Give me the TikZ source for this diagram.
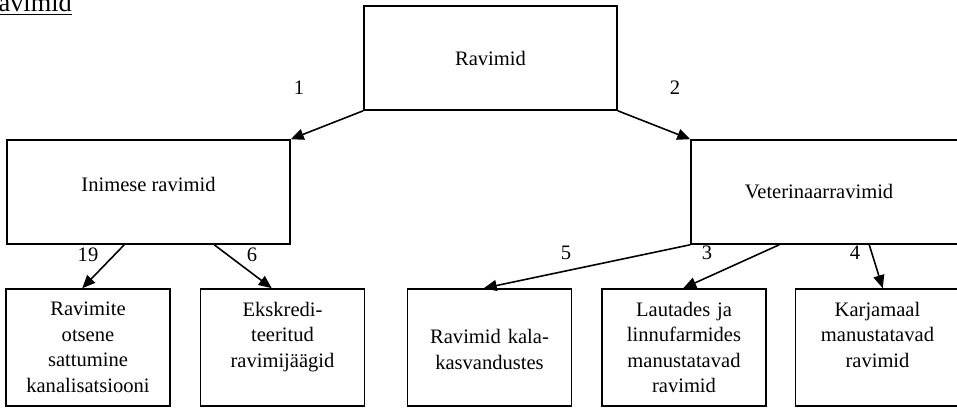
\documentclass[tikz,border=0pt]{standalone}
\usepackage{fontspec}
\setmainfont{Liberation Serif}
\usetikzlibrary{arrows.meta,calc}

\begin{document}
\begin{tikzpicture}[x=0.02cm, y=-0.02cm,
    every node/.style={font=\fontsize{11.7}{14.5}\selectfont},
    box/.style={draw, line width=0.9pt, minimum width=5.66cm, minimum height=2.08cm, inner sep=0pt},
    leaf/.style={draw, line width=0.9pt, minimum width=3.28cm, minimum height=2.34cm, text width=3.1cm, align=center, inner sep=0pt},
    arr/.style={line width=0.9pt, -{Triangle[length=0.26cm, width=0.22cm]}}]
    \useasboundingbox (0,0) rectangle (957,408);

    \node[anchor=base east, font=\fontsize{15}{18}\selectfont] (title) at (78,11.5) {\underline{Ravimid}};

    \node[box, minimum width=5.06cm] (rav) at (490.5,58) {Ravimid};
    \node[box, text depth=0.32cm] (inim) at (148.5,192) {Inimese ravimid};
    \node[box, minimum width=5.68cm] (vet) at (833,192) {Veterinaarravimid\kern0.56cm\null};

    \node[leaf] (kanal) at (88,347.5) {Ravimite\\otsene\\sattumine\\kanalisatsiooni};
    \node[leaf] (ekskr) at (282.5,347.5) {Ekskredi-\\teeritud\\ravimijäägid\\~};
    \node[leaf] (kala) at (489.5,347.5) {\strut\\Ravimid kala-\\kasvandustes\\~};
    \node[leaf] (laut) at (684,347.5) {Lautades ja\\linnufarmides\\manustatavad\\ravimid};
    \node[leaf] (karja) at (877.5,347.5) {Karjamaal\\manustatavad\\ravimid\\~};

    % Arrows
    \draw[arr] (rav.south west) -- (inim.north east);
    \draw[arr] (rav.south east) -- (vet.north west);

    \draw[arr] ($(inim.south west)+(118,0)$) -- ($(kanal.north west)+(77,0)$);
    \draw[arr] ($(inim.south west)+(208,0)$) -- ($(ekskr.north west)+(72,0)$);

    \draw[arr] (vet.south west) -- ($(kala.north west)+(77,0)$);
    \draw[arr] ($(vet.south west)+(89,0)$) -- ($(laut.north west)+(82,0)$);
    \draw[arr] ($(vet.south west)+(179,0)$) -- ($(karja.north west)+(88,0)$);

    % Counts
    \node (n1) at (299,88) {1};
    \node (n2) at (675,88) {2};
    \node (n19) at (88,255) {19};
    \node (n6) at (252,255) {6};
    \node (n5) at (566,253) {5};
    \node (n3) at (707,253) {3};
    \node (n4) at (855,253) {4};
\end{tikzpicture}
\end{document}
